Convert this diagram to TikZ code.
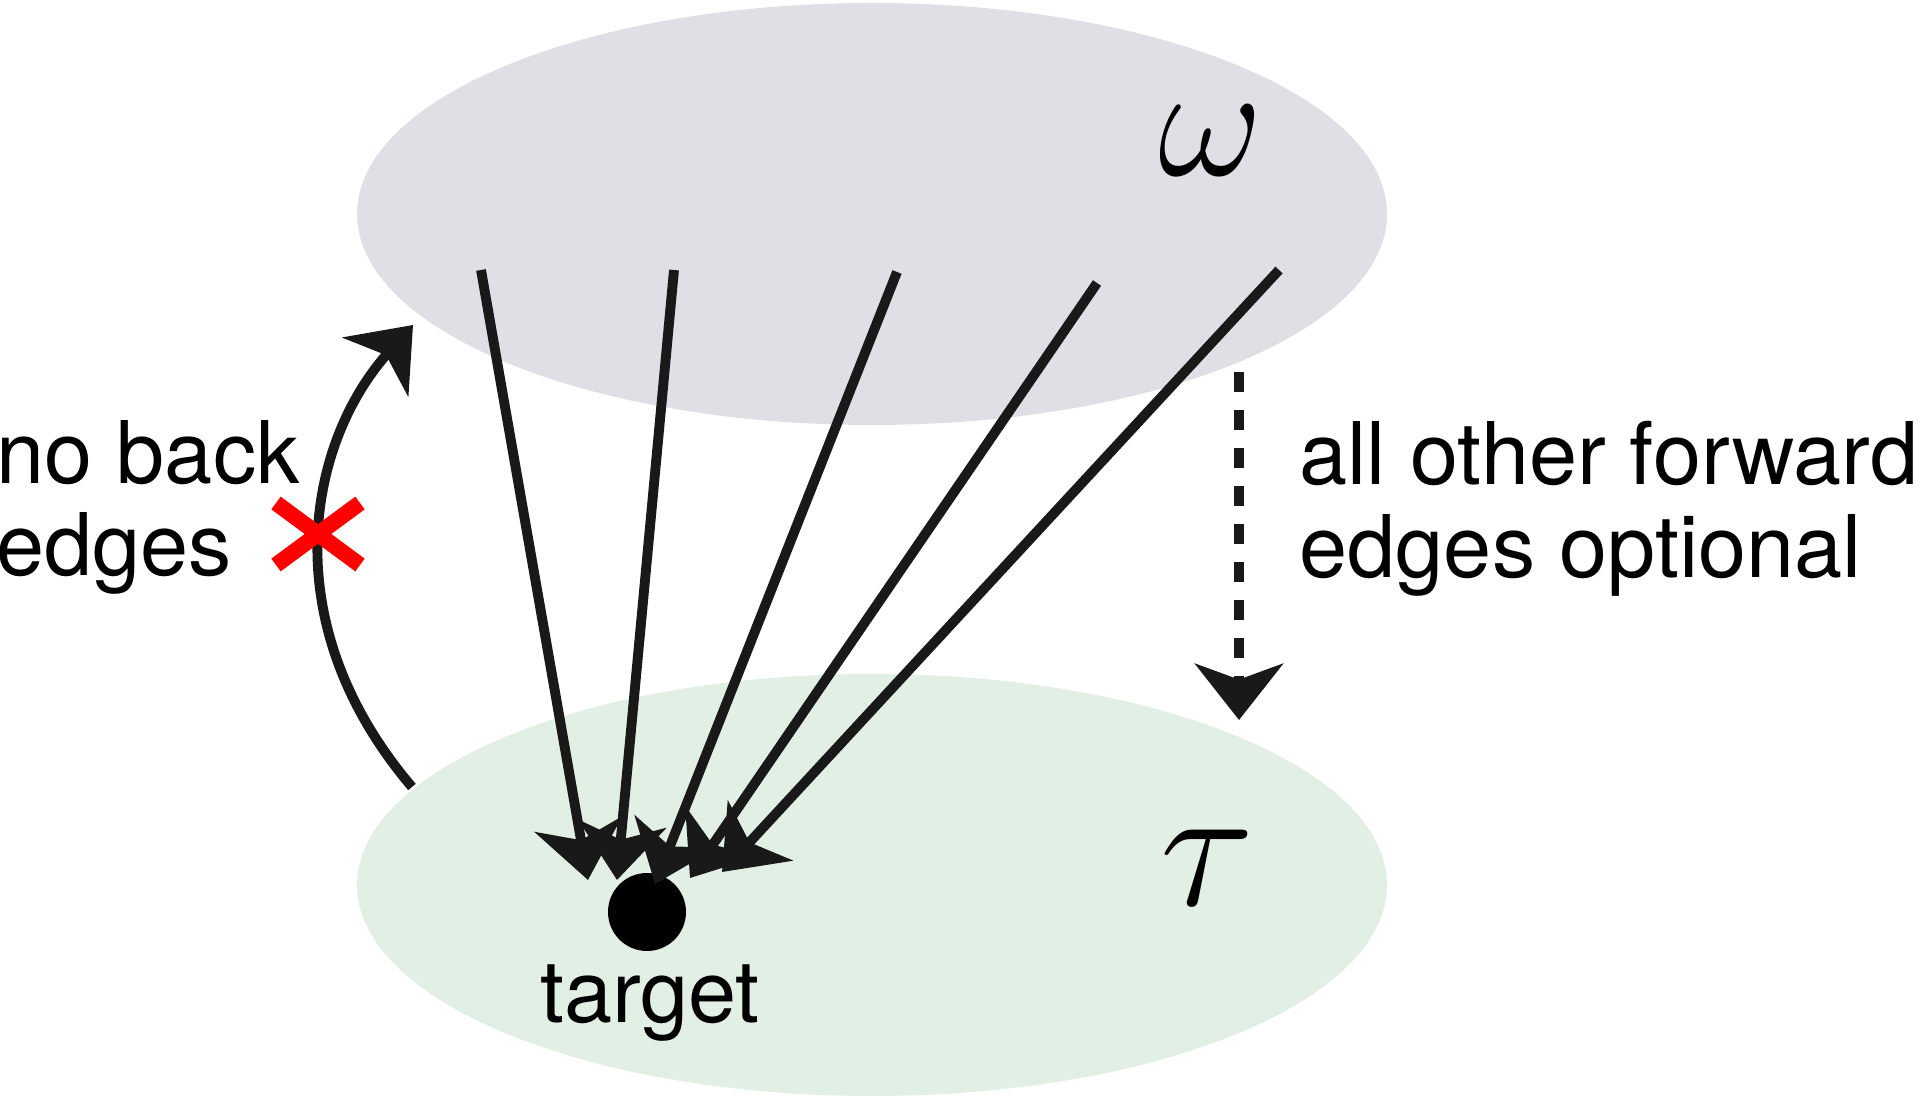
\documentclass[tikz,border=0pt]{standalone}
\usepackage{fontspec}
\setmainfont{TeX Gyre Heros}
\usetikzlibrary{arrows.meta,shapes.geometric,calc}
\definecolor{topfill}{RGB}{224,223,229}
\definecolor{botfill}{RGB}{226,239,229}
\tikzset{
  setblob/.style={ellipse, minimum width=10.3cm, minimum height=4.22cm, inner sep=0pt},
  bigarrow/.style={-{Stealth[length=16pt,width=25pt,inset=4.5pt]}},
  edgeline/.style={line width=2.8pt, black!90, bigarrow},
  lbl/.style={font=\fontsize{24.6}{26.2}\selectfont, inner sep=0pt, align=left},
  greek/.style={inner sep=0pt, transform shape, font=\fontsize{24.88}{28}\selectfont}
}
\begin{document}
\begin{tikzpicture}[x=1cm,y=1cm]
\useasboundingbox (0,0) rectangle (19.2,-10.98);
% sets
\node[setblob, fill=topfill] (omegaset) at (8.72,-2.14) {};
\node[setblob, fill=botfill] (tauset) at (8.72,-8.85) {};
\node[greek, scale=1.85] (omega) at (12.11,-1.41) {$\omega$};
\node[greek, scale=2.0] (tau) at (12.07,-8.68) {$\tau$};
% target
\node[circle, fill=black, minimum size=0.78cm, inner sep=0pt] (dot) at (6.47,-9.12) {};
\node[lbl, anchor=base] (target) at (6.50,-10.22) {target};
% edge start and end points
\coordinate (s1) at (4.81,-2.70);
\coordinate (s2) at (6.74,-2.70);
\coordinate (s3) at (8.97,-2.72);
\coordinate (s4) at (10.97,-2.83);
\coordinate (s5) at (12.79,-2.70);
\coordinate (t1) at (5.88,-8.80);
\coordinate (t2) at (6.17,-8.80);
\coordinate (t3) at (6.55,-8.84);
\coordinate (t4) at (6.90,-8.78);
\coordinate (t5) at (7.22,-8.72);
\draw[edgeline] (s1) -- (t1);
\draw[edgeline] (s2) -- (t2);
\draw[edgeline] (s3) -- (t3);
\draw[edgeline] (s4) -- (t4);
\draw[edgeline] (s5) -- (t5);
% back edge
\coordinate (bstart) at (4.12,-7.87);
\coordinate (bend) at (4.13,-3.25);
\draw[line width=2.8pt, black!90, bigarrow] (bstart) .. controls (2.70,-6.20) and (3.10,-4.40) .. (bend);
% red cross
\coordinate (xc) at (3.18,-5.34);
\draw[red, line width=4.5pt] ($(xc)+(-0.42,0.31)$) -- ($(xc)+(0.42,-0.31)$);
\draw[red, line width=4.5pt] ($(xc)+(-0.42,-0.31)$) -- ($(xc)+(0.42,0.31)$);
% dashed forward arrow
\coordinate (dstart) at (12.39,-3.72);
\coordinate (dend) at (12.39,-7.20);
\draw[line width=2.8pt, black!90, dash pattern=on 5.7pt off 5.1pt, bigarrow] (dstart) -- (dend);
% labels
\node[lbl, anchor=north west] (noback) at (-0.04,-4.20) {no back\\edges};
\node[lbl, anchor=north west] (forward) at (12.99,-4.21) {all other forward\\edges optional};
\end{tikzpicture}
\end{document}
